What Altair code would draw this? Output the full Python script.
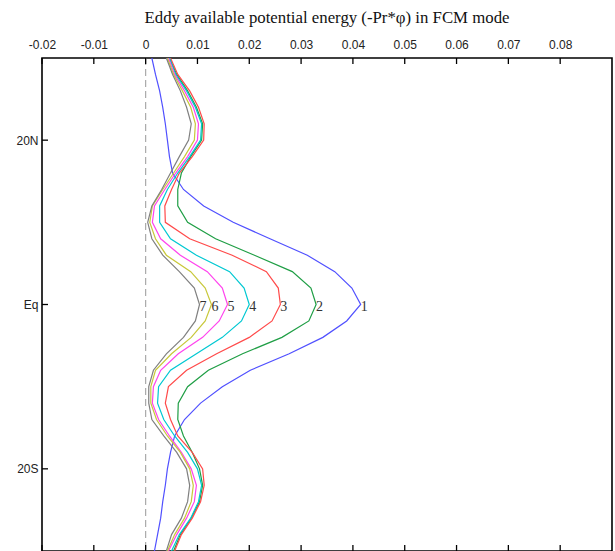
import altair as alt
import pandas as pd

# Latitude grid (degrees, north positive) shared by every curve
LATS = [30, 28, 26, 24, 22, 20, 18, 16, 14, 12, 10, 8, 6, 4, 2, 0,
        -2, -4, -6, -8, -10, -12, -14, -16, -18, -20, -22, -24, -26, -28, -30]

# Eddy available potential energy profiles, one per mode
CURVE_1 = [0.0012, 0.0019, 0.0027, 0.0033, 0.0038, 0.0042, 0.0046, 0.0052, 0.0073, 0.0112,
           0.0169, 0.0240, 0.0312, 0.0365, 0.0398, 0.0415, 0.0388, 0.0342, 0.0277, 0.0202,
           0.0148, 0.0106, 0.0075, 0.0056, 0.0048, 0.0042, 0.0038, 0.0033, 0.0029, 0.0023, 0.0017]
CURVE_2 = [0.0046, 0.0060, 0.0081, 0.0098, 0.0110, 0.0108, 0.0087, 0.0069, 0.0062, 0.0062,
           0.0081, 0.0135, 0.0210, 0.0283, 0.0319, 0.0329, 0.0315, 0.0263, 0.0187, 0.0121,
           0.0081, 0.0063, 0.0062, 0.0073, 0.0090, 0.0104, 0.0110, 0.0104, 0.0088, 0.0067, 0.0054]
CURVE_3 = [0.0048, 0.0062, 0.0085, 0.0102, 0.0113, 0.0112, 0.0090, 0.0065, 0.0050, 0.0037,
           0.0038, 0.0085, 0.0167, 0.0233, 0.0256, 0.0260, 0.0244, 0.0200, 0.0137, 0.0079,
           0.0044, 0.0038, 0.0048, 0.0062, 0.0090, 0.0110, 0.0113, 0.0106, 0.0090, 0.0069, 0.0056]
CURVE_4 = [0.0046, 0.0058, 0.0079, 0.0096, 0.0108, 0.0106, 0.0085, 0.0062, 0.0042, 0.0027,
           0.0027, 0.0048, 0.0098, 0.0162, 0.0190, 0.0200, 0.0185, 0.0148, 0.0098, 0.0048,
           0.0025, 0.0023, 0.0035, 0.0056, 0.0081, 0.0100, 0.0108, 0.0102, 0.0087, 0.0065, 0.0050]
CURVE_5 = [0.0044, 0.0056, 0.0075, 0.0092, 0.0102, 0.0100, 0.0081, 0.0058, 0.0037, 0.0017,
           0.0013, 0.0029, 0.0067, 0.0119, 0.0148, 0.0158, 0.0142, 0.0110, 0.0063, 0.0029,
           0.0015, 0.0013, 0.0025, 0.0046, 0.0069, 0.0088, 0.0098, 0.0094, 0.0079, 0.0060, 0.0044]
CURVE_6 = [0.0042, 0.0054, 0.0071, 0.0087, 0.0096, 0.0094, 0.0075, 0.0054, 0.0033, 0.0013,
           0.0008, 0.0019, 0.0040, 0.0087, 0.0115, 0.0127, 0.0115, 0.0088, 0.0050, 0.0019,
           0.0010, 0.0010, 0.0021, 0.0042, 0.0067, 0.0085, 0.0092, 0.0088, 0.0075, 0.0056, 0.0042]
CURVE_7 = [0.0040, 0.0052, 0.0067, 0.0079, 0.0088, 0.0083, 0.0065, 0.0048, 0.0031, 0.0012,
           0.0004, 0.0012, 0.0033, 0.0065, 0.0094, 0.0104, 0.0096, 0.0073, 0.0040, 0.0015,
           0.0006, 0.0006, 0.0012, 0.0035, 0.0060, 0.0079, 0.0085, 0.0081, 0.0069, 0.0050, 0.0040]

CURVE_NAMES = ["1", "2", "3", "4", "5", "6", "7"]
CURVE_COLORS = ["#5050ff", "#1f9e45", "#ff4a4a", "#00c8d2", "#ff44ee", "#c8c83a", "#808080"]

X_TICKS = [-0.02, -0.01, 0.0, 0.01, 0.02, 0.03, 0.04, 0.05, 0.06, 0.07, 0.08]
Y_TICKS = [20, 0, -20]

TITLE = "Eddy available potential energy (-Pr*\u03c6) in FCM mode"

W, H = 570, 493

curves = [CURVE_1, CURVE_2, CURVE_3, CURVE_4, CURVE_5, CURVE_6, CURVE_7]
rows = []
for name, vals in zip(CURVE_NAMES, curves):
    for i, (lat, v) in enumerate(zip(LATS, vals)):
        rows.append({"curve": name, "lat": lat, "value": v, "idx": i})
df = pd.DataFrame(rows)

# Curve numbers sit at each profile's equatorial value
labels = df[df["lat"] == 0].copy()

x_scale = alt.Scale(domain=[-0.02, 0.09], nice=False, zero=False)
y_scale = alt.Scale(domain=[-30, 30], nice=False, zero=False)
color_scale = alt.Scale(domain=CURVE_NAMES, range=CURVE_COLORS)

x_axis = alt.Axis(
    orient="top", values=X_TICKS, tickSize=0, domain=False, grid=False,
    labelExpr="'' + round(datum.value * 100) / 100", labelFlush=False,
    labelFont="Liberation Sans", labelFontSize=12, labelColor="#222222",
    labelPadding=7, title=None,
)
y_axis = alt.Axis(
    orient="left", values=Y_TICKS, tickSize=0, domain=False, grid=False,
    labelExpr="datum.value == 0 ? 'Eq' : (datum.value > 0 ? datum.value + 'N' : (-datum.value) + 'S')",
    labelFont="Liberation Sans", labelFontSize=12, labelColor="#222222",
    labelPadding=4, title=None, labelFlush=False,
)

lines = alt.Chart(df).mark_line(strokeWidth=1.2, clip=True).encode(
    x=alt.X("value:Q", scale=x_scale, axis=x_axis),
    y=alt.Y("lat:Q", scale=y_scale, axis=y_axis),
    color=alt.Color("curve:N", scale=color_scale, legend=None),
    order=alt.Order("idx:Q"),
)

zero_line = alt.Chart(pd.DataFrame({"x": [0.0]})).mark_rule(
    color="#aaaaaa", strokeWidth=1.2, strokeDash=[7, 4]
).encode(x=alt.X("x:Q", scale=x_scale))

xt = pd.DataFrame({"x": X_TICKS})
top_ticks = alt.Chart(xt).mark_rule(color="black", strokeWidth=1.3).encode(
    x=alt.X("x:Q", scale=x_scale), y=alt.value(0), y2=alt.value(6)
)
bottom_ticks = alt.Chart(xt).mark_rule(color="black", strokeWidth=1.3).encode(
    x=alt.X("x:Q", scale=x_scale), y=alt.value(H - 6), y2=alt.value(H)
)
left_ticks = alt.Chart(pd.DataFrame({"y": Y_TICKS})).mark_rule(color="black", strokeWidth=1.3).encode(
    y=alt.Y("y:Q", scale=y_scale), x=alt.value(0), x2=alt.value(6)
)

num_labels = alt.Chart(labels).mark_text(
    font="Liberation Serif", fontSize=14, color="#333333", align="left",
    baseline="middle", dx=0, dy=2,
).encode(
    x=alt.X("value:Q", scale=x_scale),
    y=alt.Y("lat:Q", scale=y_scale),
    text="curve:N",
)

chart = alt.layer(
    zero_line, lines, num_labels, top_ticks, bottom_ticks, left_ticks
).properties(
    width=W, height=H,
    title=alt.TitleParams(TITLE, font="Liberation Serif", fontSize=16.8, fontWeight="normal",
                          color="#111111", anchor="middle", offset=11),
    autosize=alt.AutoSizeParams(type="none"),
    padding={"left": 42, "top": 58, "right": 3, "bottom": 0},
).configure(
    background="white",
    view=alt.ViewConfig(stroke="black", strokeWidth=1.6),
)

chart.save("out.html", embed_options={"renderer": "svg", "actions": False})
